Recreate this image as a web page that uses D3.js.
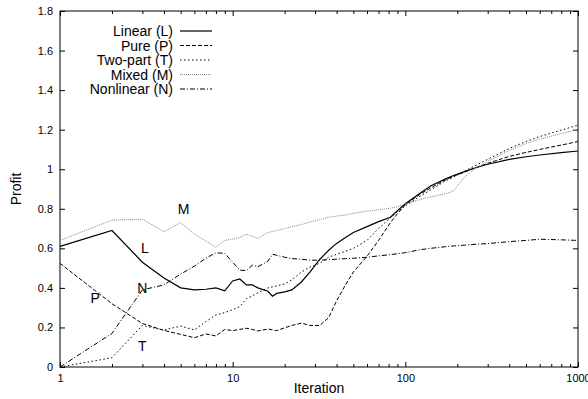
<!DOCTYPE html>
<meta charset="utf-8">
<style>
body { margin: 0; background: #fff; }
svg { font-family: "Liberation Sans", Arial, Helvetica, sans-serif; }
.axis path.domain { display: none; }
.axis line { stroke: #000; stroke-width: 1px; }
.axis text { font-size: 11px; fill: #000; }
.lbl { font-size: 14px; fill: #000; }
.series { fill: none; }
</style>
<svg width="588" height="399"></svg>
<script src="https://cdn.jsdelivr.net/npm/d3@7"></script>
<script>

var iters = [1,2,3,4,5,6,7,8,9,10,11,12,13,14,16,17,18,20,22,25,28,32,36,40,45,50,60,70,82,90,100,120,140,170,190,220,250,300,400,500,600,800,1000];

var linear = [.61,.69,.53,.45,.40,.39,.393,.40,.385,.435,.445,.415,.415,.40,.383,.358,.372,.38,.39,.43,.48,.545,.59,.625,.655,.68,.71,.735,.757,.79,.825,.875,.915,.95,.968,.988,1.005,1.025,1.05,1.063,1.072,1.084,1.092];
var pure = [.524,.32,.22,.185,.165,.148,.167,.157,.19,.184,.19,.196,.19,.182,.192,.188,.184,.198,.21,.222,.21,.21,.25,.335,.415,.48,.56,.64,.73,.775,.82,.87,.905,.945,.965,.985,1.005,1.03,1.065,1.085,1.1,1.122,1.14];
var twoPart = [0,.047,.21,.187,.207,.187,.23,.263,.275,.29,.305,.345,.36,.376,.40,.405,.41,.42,.44,.48,.505,.525,.555,.57,.585,.60,.64,.70,.755,.785,.815,.86,.895,.94,.96,.99,1.015,1.05,1.105,1.14,1.165,1.198,1.223];
var mixed = [.64,.743,.747,.684,.73,.672,.637,.605,.64,.647,.655,.672,.66,.65,.68,.685,.69,.70,.71,.72,.733,.745,.757,.763,.768,.777,.788,.795,.803,.81,.825,.845,.86,.875,.89,.96,1.0,1.04,1.095,1.13,1.152,1.18,1.20];
var nonlinear = [0,.17,.39,.415,.47,.51,.55,.578,.574,.53,.49,.487,.515,.507,.535,.57,.565,.555,.548,.545,.54,.54,.543,.545,.548,.55,.555,.562,.568,.573,.578,.592,.6,.608,.612,.616,.62,.624,.634,.64,.646,.643,.64];

var seriesNames = ["Linear (L)", "Pure (P)", "Two-part (T)", "Mixed (M)", "Nonlinear (N)"];
var yTicks = [0, 0.2, 0.4, 0.6, 0.8, 1, 1.2, 1.4, 1.6, 1.8];
var xTicks = [1, 10, 100, 1000];

// curve labels: letter, iteration, value
var curveLabels = [["M", 5.2, 0.80], ["L", 3.1, 0.60], ["N", 3.0, 0.40], ["P", 1.6, 0.35], ["T", 3.0, 0.105]];

var svg = d3.select("svg"),
    margin = {left: 60, right: 10, top: 11, bottom: 32},
    width = 588 - margin.left - margin.right,
    height = 399 - margin.top - margin.bottom;

var x = d3.scaleLog().domain([1, 1000]).range([margin.left, margin.left + width]);
var y = d3.scaleLinear().domain([0, 1.8]).range([margin.top + height, margin.top]);

var minor = [];
[1, 10, 100].forEach(function(d) {
  for (var k = 2; k <= 9; k++) minor.push(d * k);
});

var fmt = function(d) { return d3.format("~g")(d); };

// major + minor ticks on all four sides, pointing inward
svg.append("g").attr("class", "axis")
    .attr("transform", "translate(0," + y(0) + ")")
    .call(d3.axisBottom(x).tickValues(xTicks).tickSize(-5).tickPadding(7).tickFormat(fmt));
svg.append("g").attr("class", "axis")
    .attr("transform", "translate(0," + y(0) + ")")
    .call(d3.axisBottom(x).tickValues(minor).tickSize(-3).tickFormat(""));
svg.append("g").attr("class", "axis")
    .attr("transform", "translate(0," + y(1.8) + ")")
    .call(d3.axisTop(x).tickValues(xTicks).tickSize(-5).tickFormat(""));
svg.append("g").attr("class", "axis")
    .attr("transform", "translate(0," + y(1.8) + ")")
    .call(d3.axisTop(x).tickValues(minor).tickSize(-3).tickFormat(""));
svg.append("g").attr("class", "axis")
    .attr("transform", "translate(" + x(1) + ",0)")
    .call(d3.axisLeft(y).tickValues(yTicks).tickSize(-5).tickPadding(7).tickFormat(fmt));
svg.append("g").attr("class", "axis")
    .attr("transform", "translate(" + x(1000) + ",0)")
    .call(d3.axisRight(y).tickValues(yTicks).tickSize(-5).tickFormat(""));

svg.append("rect")
    .attr("x", x(1)).attr("y", y(1.8))
    .attr("width", x(1000) - x(1)).attr("height", y(0) - y(1.8))
    .attr("fill", "none").attr("stroke", "#000").attr("stroke-width", 1);

svg.append("text").attr("class", "lbl")
    .attr("x", (x(1) + x(1000)) / 2).attr("y", 393)
    .attr("text-anchor", "middle").text("Iteration");
svg.append("text").attr("class", "lbl")
    .attr("transform", "translate(21," + (y(0.9)) + ") rotate(-90)")
    .attr("text-anchor", "middle").text("Profit");

var styles = [
  {values: linear, stroke: "#000", width: 1.2, dash: null},
  {values: pure, stroke: "#000", width: 1, dash: "4,2"},
  {values: twoPart, stroke: "#000", width: 1, dash: "1.5,2.5"},
  {values: mixed, stroke: "#888", width: 1, dash: "1,1"},
  {values: nonlinear, stroke: "#000", width: 1, dash: "5,2,1,2"}
];

var line = d3.line()
    .x(function(d) { return x(d[0]); })
    .y(function(d) { return y(d[1]); });

styles.forEach(function(s) {
  svg.append("path")
      .attr("class", "series")
      .attr("d", line(iters.map(function(it, i) { return [it, s.values[i]]; })))
      .attr("stroke", s.stroke)
      .attr("stroke-width", s.width)
      .attr("stroke-dasharray", s.dash);
});

curveLabels.forEach(function(c) {
  svg.append("text").attr("class", "lbl")
      .attr("x", x(c[1])).attr("y", y(c[2]))
      .attr("dy", "0.36em")
      .attr("text-anchor", "middle")
      .text(c[0]);
});

// legend
var legend = svg.append("g");
seriesNames.forEach(function(name, i) {
  var ly = 31 + i * 14.5;
  legend.append("text").attr("class", "lbl")
      .attr("x", 173).attr("y", ly).attr("dy", "0.36em")
      .attr("text-anchor", "end").text(name);
  legend.append("line")
      .attr("x1", 180).attr("x2", 212).attr("y1", ly).attr("y2", ly)
      .attr("stroke", styles[i].stroke)
      .attr("stroke-width", styles[i].width)
      .attr("stroke-dasharray", styles[i].dash);
});

</script>
